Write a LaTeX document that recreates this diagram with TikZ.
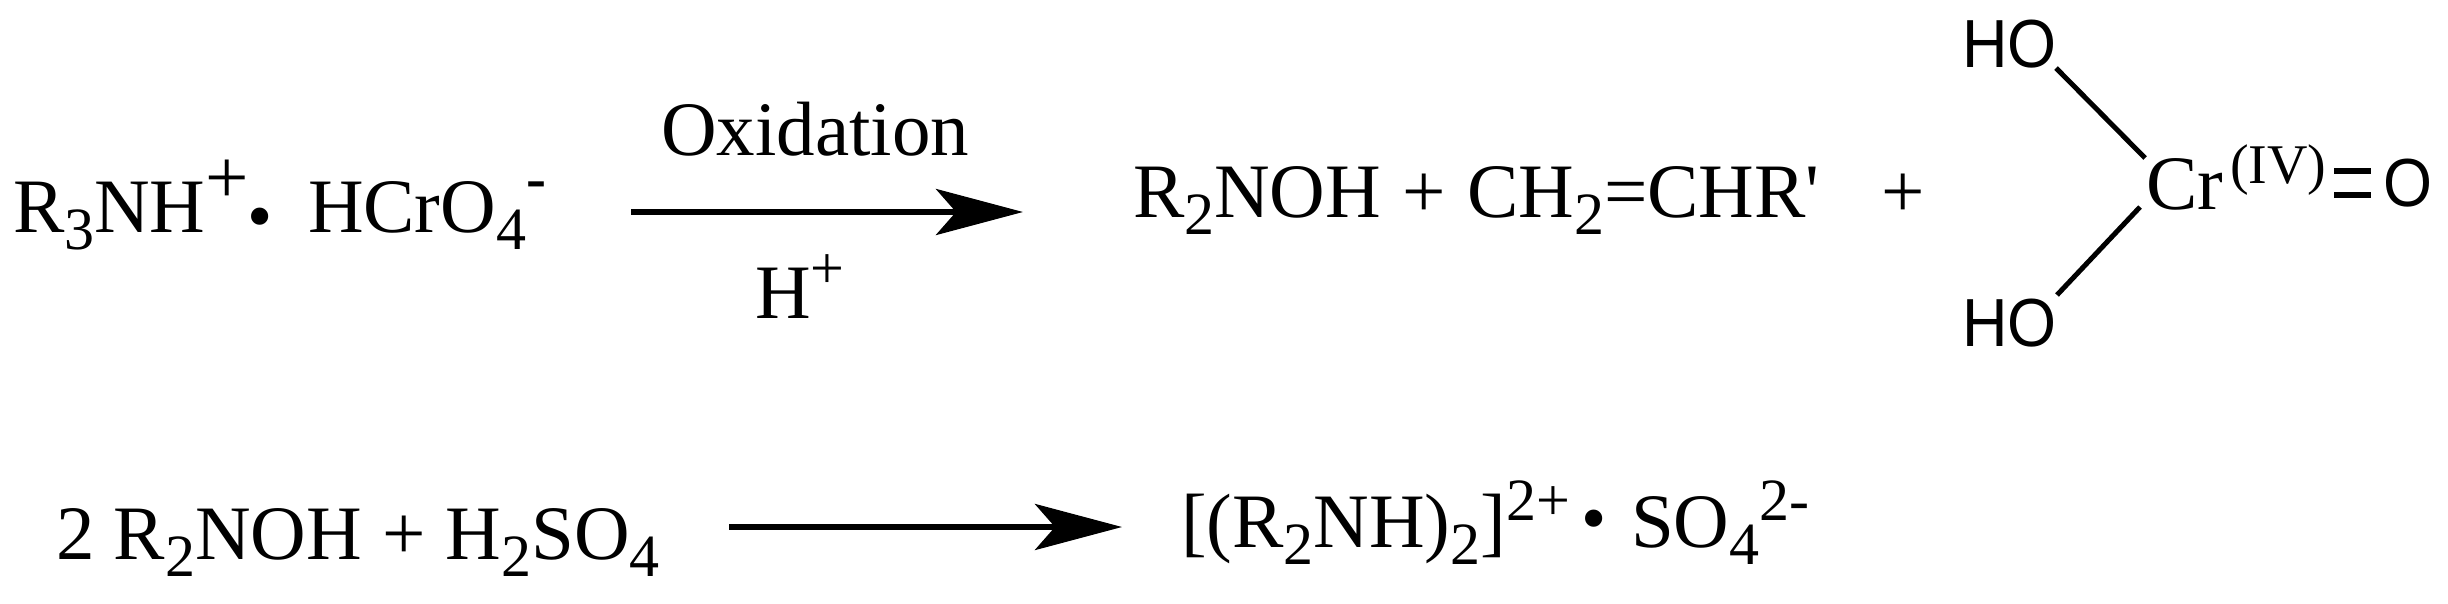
\documentclass[tikz,border=0pt]{standalone}
\usepackage{fontspec}
\setmainfont{Liberation Serif}
\newfontfamily\hosans{Liberation Sans}
\newfontfamily\rawserif{Liberation Serif}
\usetikzlibrary{arrows.meta}
\newcommand\fsz[1]{\fontsize{#1}{#1}\selectfont}
\newcommand\sbs[1]{\raisebox{-17pt}{\fsz{60}#1}}
\newcommand\spl[1]{\raisebox{29pt}{\fsz{77}#1}}
\newcommand\sps[1]{\raisebox{27pt}{\fsz{60}#1}}
\newcommand\sph[1]{\raisebox{35pt}{\fsz{60}\bfseries #1}}
\tikzset{
  chem/.style={inner sep=0pt,outer sep=0pt,anchor=base west,font=\fsz{77}},
  sanslab/.style={inner sep=0pt,outer sep=0pt,anchor=base west,font=\hosans\fsz{63}},
  dotlab/.style={inner sep=0pt,outer sep=0pt,anchor=base,font=\fsz{72}},
  rxn/.style={line width=6pt,-{Stealth[length=87pt,width=46pt,inset=20pt]}},
  bond/.style={line width=5pt},
  dbl/.style={line width=6pt}
}
\begin{document}
\begin{tikzpicture}[x=1pt,y=-1pt]
\useasboundingbox (0,0) rectangle (2448,604);
% first row, left
\node[chem] (r1) at (13,233) {R\sbs{3}NH\spl{+}};
\node[dotlab] (d1) at (260,240) {•};
\node[chem] (r2) at (308,233) {HCrO\sbs{4}\sph{-}};
\node[chem] (ox) at (661,156) {Oxidation};
\node[chem] (hp) at (755,318) {H\raisebox{30pt}{\fsz{60}+}};
\coordinate (a1s) at (631,212);
\coordinate (a1e) at (1023,212);
\draw[rxn] (a1s) -- (a1e);
% first row, right
\node[chem] (p1) at (1133,218) {R\sbs{2}NOH\hspace{2pt} + \hspace{2pt}CH\sbs{2}=CHR{\rawserif '}};
\node[chem] (pl) at (1881,218) {+};
% chromium species
\node[sanslab] (ho1) at (1962,68) {\scalebox{1}[1.08]{HO}};
\node[sanslab] (ho2) at (1962,346) {\scalebox{1}[1.08]{HO}};
\node[chem] (cr) at (2146,209) {Cr};
\node[inner sep=0pt,outer sep=0pt,anchor=base west,font=\fsz{56}] (iv) at (2230,184) {(IV)};
\node[sanslab] (oo) at (2383,207) {\scalebox{1}[1.08]{O}};
\coordinate (b1) at (2056,68);
\coordinate (b2) at (2145,158);
\coordinate (b3) at (2140,207);
\coordinate (b4) at (2057,295);
\draw[bond] (b1) -- (b2);
\draw[bond] (b3) -- (b4);
\coordinate (c1) at (2334,171);
\coordinate (c2) at (2371,171);
\coordinate (c3) at (2334,195);
\coordinate (c4) at (2371,195);
\draw[dbl] (c1) -- (c2);
\draw[dbl] (c3) -- (c4);
% second row
\node[chem] (q1) at (56,559) {2 R\sbs{2}NOH\hspace{1pt} + \hspace{1pt}H\sbs{2}SO\sbs{4}};
\coordinate (a2s) at (729,527);
\coordinate (a2e) at (1122,527);
\draw[rxn] (a2s) -- (a2e);
\node[chem] (q2) at (1181,547) {[(R\sbs{2}NH)\sbs{2}]\sps{2+}};
\node[dotlab] (d2) at (1594,542) {•};
\node[chem] (q3) at (1631,547) {SO\sbs{4}\sps{2-}};
\end{tikzpicture}
\end{document}
